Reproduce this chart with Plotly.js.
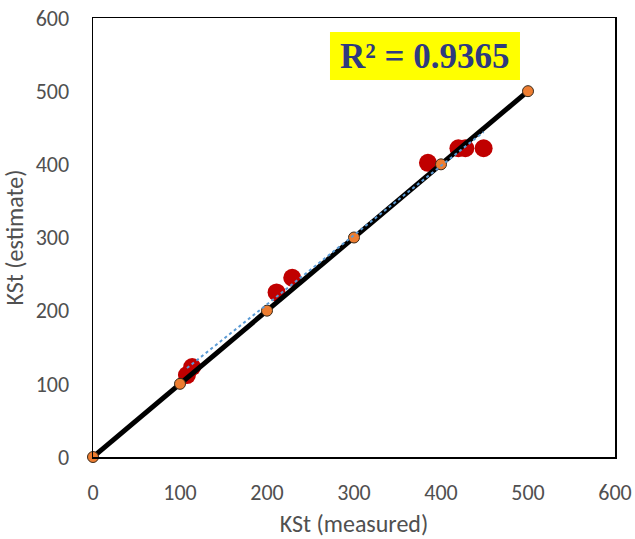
<!DOCTYPE html>
<html>
<head>
<meta charset="utf-8">
<script src="https://cdn.plot.ly/plotly-3.0.1.min.js"></script>
<style>html,body{margin:0;padding:0;background:#fff;}#chart{width:635px;height:539px;}</style>
</head>
<body>
<div id="chart"></div>
<script>
// Measured vs estimated KSt (red points)
const measured = [108, 114, 211, 229, 385, 420, 428, 449];
const estimate = [112, 123, 225, 245, 402, 422, 422, 422];
// 1:1 reference line (orange markers)
const refX = [0, 100, 200, 300, 400, 500];
const refY = [0, 100, 200, 300, 400, 500];
const xTicks = [0, 100, 200, 300, 400, 500, 600];
const yTicks = [0, 100, 200, 300, 400, 500, 600];
const r2Label = "R² = 0.9365";

// linear least-squares trendline through the red points
const n = measured.length;
const mx = measured.reduce((a,b)=>a+b,0)/n;
const my = estimate.reduce((a,b)=>a+b,0)/n;
let sxy = 0, sxx = 0;
for (let i=0;i<n;i++){ sxy += (measured[i]-mx)*(estimate[i]-my); sxx += (measured[i]-mx)**2; }
const slope = sxy/sxx, icpt = my - slope*mx;
const tx = [Math.min(...measured), Math.max(...measured)];
const ty = tx.map(v => icpt + slope*v);

const traces = [
  {x: measured, y: estimate, type: 'scatter', mode: 'markers',
   marker: {color: '#C00000', size: 18}, cliponaxis: false, showlegend: false},
  {x: refX, y: refY, type: 'scatter', mode: 'lines+markers',
   line: {color: '#000000', width: 5},
   marker: {color: '#ED7D31', size: 11, line: {color: '#3a2a1a', width: 1}},
   cliponaxis: false, showlegend: false},
  {x: tx, y: ty, type: 'scatter', mode: 'lines',
   line: {color: '#5B9BD5', width: 2, dash: 'dot'}, showlegend: false}
];

const fam = 'Carlito, "Open Sans", "Liberation Sans", sans-serif';
const tickFont = {family: fam, size: 22, color: '#505050'};
const titleFont = {family: fam, size: 24, color: '#505050'};
const layout = {
  width: 635, height: 539,
  margin: {l: 93, r: 20, t: 18, b: 82},
  paper_bgcolor: '#ffffff', plot_bgcolor: '#ffffff',
  showlegend: false,
  xaxis: {range: [0, 600], tickvals: xTicks, ticktext: xTicks.map(String),
    showgrid: false, zeroline: false, showline: true, mirror: true,
    linecolor: '#000000', linewidth: 1.5, ticks: '', ticklabelstandoff: 15,
    tickfont: tickFont,
    title: {text: 'KSt (measured)', font: titleFont, standoff: 10}},
  yaxis: {range: [0, 600], tickvals: yTicks, ticktext: yTicks.map(String),
    showgrid: false, zeroline: false, showline: true, mirror: true,
    linecolor: '#000000', linewidth: 1.5, ticks: '', ticklabelstandoff: 18,
    tickfont: tickFont,
    title: {text: 'KSt (estimate)', font: titleFont, standoff: 8}},
  shapes: [{type: 'rect', xref: 'paper', yref: 'paper',
    x0: 0.454, x1: 0.818, y0: 0.859, y1: 0.968,
    fillcolor: '#FFFF00', line: {width: 0}, layer: 'below'}],
  annotations: [{
    x: 0.636, y: 0.913, xref: 'paper', yref: 'paper', xanchor: 'center', yanchor: 'middle',
    text: '<b>' + r2Label + '</b>', showarrow: false,
    font: {family: '"Liberation Serif", "Times New Roman", serif', size: 35, color: '#2E3A80'}
  }]
};

Plotly.newPlot('chart', traces, layout, {displayModeBar: false, staticPlot: true});
</script>
</body>
</html>
